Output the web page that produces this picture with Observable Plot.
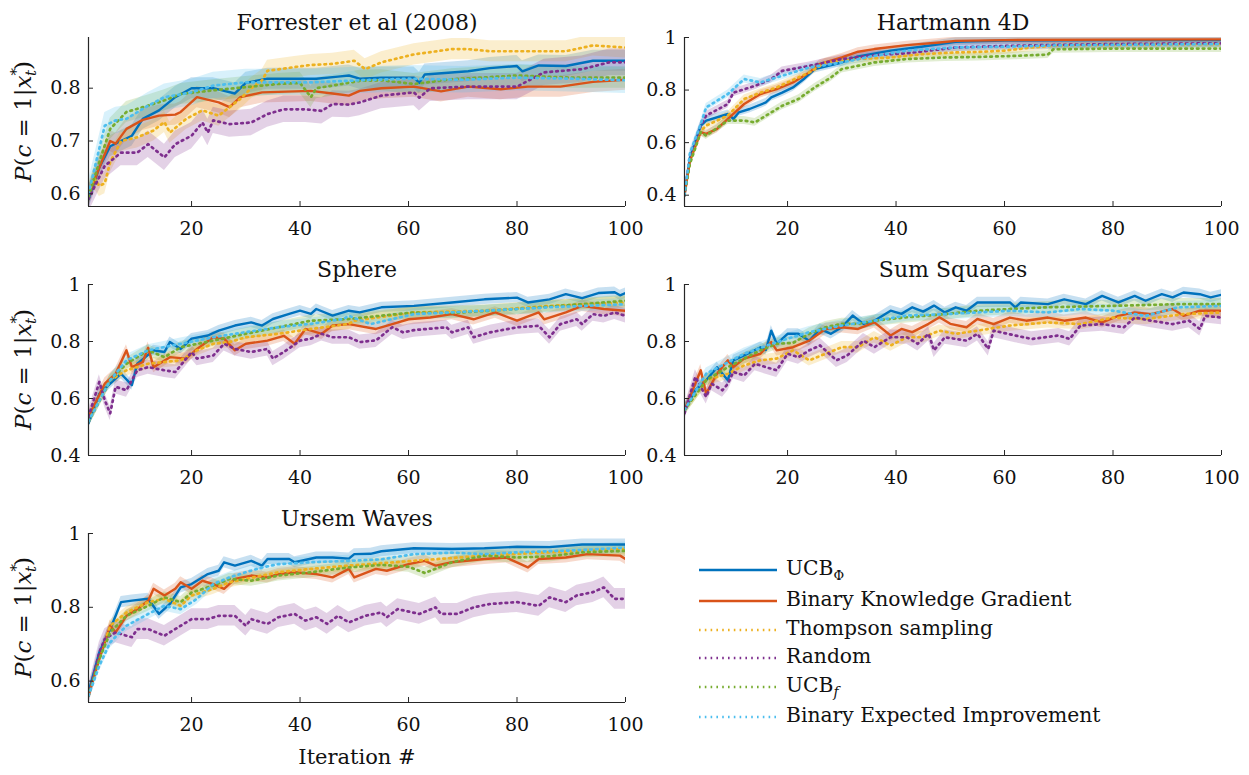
<!DOCTYPE html>
<html><head><meta charset="utf-8">
<script src="https://cdn.jsdelivr.net/npm/d3@7"></script>
<script src="https://cdn.jsdelivr.net/npm/@observablehq/plot@0.6"></script>
<style>
body{margin:0;background:#fff;}
#root{position:relative;width:1249px;height:775px;font-family:"DejaVu Serif",serif;color:#111;overflow:hidden;}
.pp{position:absolute;}
.pp svg{overflow:visible;}
.xl{position:absolute;font-size:21px;transform:translateX(-50%);white-space:nowrap;}
.lg{position:absolute;left:698px;font-size:20.3px;white-space:nowrap;}
.lg svg{vertical-align:middle;margin-right:8px;}
</style></head><body><div id="root"></div><script>
// ---------- data ----------
const SERIES = ["UCBΦ","Binary Knowledge Gradient","Thompson sampling","Random","UCBf","Binary Expected Improvement"];
const COLORS = ["#0072BD","#D95319","#EDB120","#7E2F8E","#77AC30","#4DBEEE"];
const DOTTED = [false,false,true,true,true,true];
const XDOMAIN = [1,100];
const XTICKS = [20,40,60,80,100];

// Forrester et al (2008)
const F_TITLE = "Forrester et al (2008)";
const F_YDOMAIN = [0.576,0.896];
const F_YTICKS = [0.6,0.7,0.8];
const F_BAND = [0.02,0.02,0.02,0.025,0.02,0.025];
const F_UCBPHI = [[1,.59],[3,.65],[5,.69],[7,.70],[9,.71],[11,.742],[14,.758],[17,.783],[20,.80],[24,.80],[28,.79],[30,.81],[34,.818],[39,.818],[43,.818],[47,.822],[49,.824],[51,.818],[55,.82],[61,.82],[62,.81],[63,.826],[71,.832],[75,.838],[80,.842],[81,.832],[84,.843],[89,.842],[94,.852],[100,.852]];
const F_BKG = [[1,.595],[3,.65],[5,.70],[6,.695],[8,.723],[11,.74],[14,.748],[17,.75],[18,.755],[21,.783],[25,.773],[27,.764],[29,.783],[33,.792],[42,.795],[46,.79],[49,.786],[51,.795],[55,.80],[61,.803],[66,.794],[71,.803],[77,.798],[82,.803],[88,.803],[94,.812],[100,.816]];
const F_TS = [[1,.60],[2,.63],[3,.615],[4,.62],[5,.66],[7,.70],[10,.707],[13,.72],[15,.736],[16,.716],[19,.742],[22,.758],[25,.748],[29,.78],[31,.80],[33,.815],[34,.833],[39,.84],[42,.844],[46,.846],[50,.852],[52,.836],[55,.849],[61,.864],[68,.874],[71,.874],[75,.87],[83,.87],[89,.87],[94,.881],[100,.877]];
const F_RAND = [[1,.59],[4,.653],[7,.678],[10,.678],[12,.694],[15,.669],[17,.694],[20,.71],[22,.735],[23,.716],[24,.739],[27,.732],[31,.735],[34,.751],[37,.76],[41,.76],[44,.757],[46,.77],[49,.769],[51,.773],[55,.786],[61,.792],[62,.782],[64,.80],[71,.803],[80,.803],[85,.83],[92,.836],[97,.849],[100,.849]];
const F_UCBF = [[1,.595],[3,.66],[5,.723],[8,.755],[12,.767],[15,.777],[18,.789],[24,.796],[30,.802],[36,.808],[40,.81],[42,.783],[43,.80],[46,.805],[51,.814],[55,.815],[61,.808],[68,.817],[80,.824],[90,.82],[100,.82]];
const F_BEI = [[1,.60],[4,.729],[6,.739],[8,.742],[12,.767],[15,.783],[20,.792],[24,.805],[30,.811],[36,.811],[42,.811],[51,.815],[60,.818],[70,.816],[80,.82],[90,.818],[100,.815]];

// Hartmann 4D
const H_TITLE = "Hartmann 4D";
const H_YDOMAIN = [0.357,1];
const H_YTICKS = [0.4,0.6,0.8,1];
const H_BAND = [0.015,0.015,0.015,0.015,0.015,0.015];
const H_UCBPHI = [[1,.40],[2,.54],[4,.665],[5,.684],[9,.709],[10,.69],[11,.715],[13,.728],[16,.753],[17,.772],[19,.79],[21,.81],[23,.842],[25,.88],[30,.905],[33,.928],[39,.95],[45,.966],[51,.984],[60,.988],[80,.99],[100,.99]];
const H_BKG = [[1,.40],[2,.53],[4,.64],[5,.633],[7,.652],[9,.69],[12,.747],[15,.785],[18,.804],[21,.829],[24,.867],[26,.90],[30,.924],[33,.946],[36,.956],[42,.971],[48,.981],[51,.987],[60,.99],[80,.992],[100,.993]];
const H_TS = [[1,.40],[2,.53],[4,.645],[5,.665],[9,.703],[12,.766],[15,.79],[18,.81],[24,.867],[27,.905],[33,.918],[39,.924],[45,.937],[51,.943],[55,.945],[60,.95],[65,.962],[70,.97],[80,.972],[100,.975]];
const H_RAND = [[1,.40],[2,.55],[4,.665],[5,.703],[9,.747],[10,.79],[14,.816],[17,.842],[19,.873],[24,.892],[30,.918],[36,.933],[42,.94],[51,.962],[60,.968],[70,.972],[80,.975],[100,.978]];
const H_UCBF = [[1,.40],[2,.52],[4,.64],[5,.627],[9,.684],[12,.684],[14,.677],[17,.715],[19,.74],[22,.766],[25,.81],[28,.848],[30,.88],[36,.905],[42,.918],[49,.924],[55,.926],[62,.93],[68,.935],[69,.955],[80,.958],[100,.958]];
const H_BEI = [[1,.40],[2,.56],[4,.67],[5,.734],[9,.785],[12,.842],[15,.829],[18,.848],[21,.867],[24,.886],[30,.905],[36,.93],[42,.95],[51,.962],[60,.965],[70,.97],[80,.972],[100,.975]];

// Sphere
const S_TITLE = "Sphere";
const S_YDOMAIN = [0.4,1];
const S_YTICKS = [0.4,0.6,0.8,1];
const S_BAND = [0.018,0.02,0.02,0.025,0.02,0.02];
const S_UCBPHI = [[1,.513],[3,.617],[5,.652],[7,.687],[9,.647],[10,.722],[13,.769],[15,.763],[16,.798],[18,.774],[20,.81],[23,.821],[25,.838],[28,.856],[31,.867],[33,.856],[35,.879],[38,.897],[40,.908],[42,.897],[43,.914],[46,.891],[49,.908],[51,.902],[55,.92],[61,.925],[68,.937],[74,.948],[80,.954],[82,.937],[86,.948],[89,.966],[92,.952],[95,.97],[98,.973],[99,.962],[100,.97]];
const S_BKG = [[1,.536],[4,.652],[6,.687],[8,.769],[9,.71],[11,.728],[12,.778],[13,.71],[16,.745],[19,.74],[21,.774],[24,.815],[26,.81],[28,.769],[30,.792],[34,.803],[37,.82],[39,.792],[41,.844],[44,.827],[46,.856],[49,.861],[54,.844],[57,.861],[60,.878],[64,.884],[68,.896],[72,.878],[76,.902],[80,.873],[84,.902],[85,.878],[89,.902],[92,.925],[96,.914],[100,.908]];
const S_TS = [[1,.52],[5,.664],[8,.699],[12,.722],[18,.734],[21,.769],[24,.792],[27,.798],[30,.815],[36,.827],[42,.844],[49,.862],[50,.873],[61,.902],[74,.908],[86,.925],[100,.937]];
const S_RAND = [[1,.536],[3,.658],[4,.594],[5,.548],[6,.641],[8,.629],[10,.699],[12,.71],[15,.699],[17,.693],[20,.763],[21,.74],[24,.751],[26,.792],[28,.774],[31,.763],[34,.774],[35,.74],[37,.763],[40,.803],[42,.81],[44,.827],[46,.815],[49,.815],[51,.798],[54,.804],[57,.85],[59,.832],[61,.84],[67,.85],[68,.832],[71,.85],[72,.815],[75,.832],[80,.85],[84,.855],[86,.815],[88,.861],[91,.878],[92,.861],[94,.896],[96,.89],[98,.902],[100,.89]];
const S_UCBF = [[1,.52],[5,.664],[8,.722],[12,.769],[15,.745],[18,.78],[24,.803],[30,.827],[36,.85],[42,.873],[49,.879],[61,.902],[68,.90],[80,.914],[92,.931],[100,.943]];
const S_BEI = [[1,.52],[5,.664],[8,.734],[12,.769],[18,.792],[24,.815],[30,.833],[36,.85],[42,.862],[48,.879],[49,.89],[53,.861],[61,.896],[74,.908],[86,.92],[100,.931]];

// Sum Squares
const Q_TITLE = "Sum Squares";
const Q_YDOMAIN = [0.4,1];
const Q_YTICKS = [0.4,0.6,0.8,1];
const Q_BAND = [0.018,0.02,0.02,0.025,0.02,0.02];
const Q_UCBPHI = [[1,.559],[3,.629],[5,.664],[7,.71],[9,.664],[10,.734],[12,.751],[15,.78],[16,.77],[17,.838],[18,.792],[20,.827],[22,.827],[24,.803],[26,.844],[28,.827],[30,.85],[32,.891],[34,.862],[36,.873],[39,.908],[41,.897],[43,.92],[45,.905],[47,.926],[49,.902],[51,.92],[53,.908],[55,.937],[61,.937],[62,.92],[63,.937],[68,.931],[71,.948],[75,.931],[78,.96],[81,.937],[84,.96],[86,.943],[89,.966],[91,.955],[93,.972],[96,.966],[98,.955],[100,.964]];
const Q_BKG = [[1,.559],[4,.699],[5,.617],[7,.687],[9,.734],[10,.71],[12,.74],[15,.757],[17,.798],[18,.769],[21,.78],[24,.803],[27,.844],[30,.85],[33,.844],[36,.867],[39,.821],[41,.844],[43,.833],[46,.862],[48,.885],[50,.862],[53,.85],[55,.879],[58,.861],[61,.884],[64,.873],[68,.884],[71,.873],[75,.884],[78,.867],[81,.89],[84,.902],[87,.896],[91,.914],[93,.89],[96,.908],[100,.908]];
const Q_TS = [[1,.56],[5,.664],[9,.687],[12,.716],[15,.734],[18,.74],[21,.769],[24,.734],[27,.757],[30,.78],[33,.78],[36,.815],[39,.786],[42,.815],[45,.815],[48,.838],[51,.827],[55,.838],[61,.856],[68,.867],[74,.861],[80,.884],[86,.879],[93,.896],[100,.902]];
const Q_RAND = [[1,.548],[3,.676],[5,.606],[6,.652],[8,.629],[9,.652],[10,.693],[12,.681],[14,.722],[16,.71],[18,.699],[20,.757],[22,.745],[24,.769],[26,.786],[29,.734],[31,.751],[34,.803],[36,.78],[39,.815],[42,.815],[44,.792],[46,.827],[47,.769],[49,.815],[53,.803],[55,.827],[57,.774],[58,.838],[62,.821],[65,.809],[70,.821],[72,.809],[74,.856],[78,.861],[82,.85],[84,.884],[87,.873],[91,.861],[94,.873],[96,.844],[97,.89],[100,.884]];
const Q_UCBF = [[1,.56],[5,.664],[9,.71],[12,.74],[15,.769],[18,.792],[21,.795],[24,.827],[27,.85],[30,.862],[33,.862],[36,.873],[42,.885],[49,.896],[55,.908],[61,.914],[68,.92],[80,.925],[92,.931],[100,.931]];
const Q_BEI = [[1,.56],[5,.687],[12,.757],[18,.798],[24,.833],[30,.856],[36,.873],[42,.891],[49,.896],[61,.908],[68,.902],[74,.914],[80,.908],[86,.89],[92,.92],[100,.925]];

// Ursem Waves
const U_TITLE = "Ursem Waves";
const U_YDOMAIN = [0.542,1];
const U_YTICKS = [0.6,0.8,1];
const U_BAND = [0.015,0.015,0.015,0.028,0.015,0.015];
const U_UCBPHI = [[1,.57],[3,.678],[5,.741],[6,.777],[7,.814],[9,.818],[12,.823],[14,.782],[16,.809],[18,.854],[20,.863],[23,.89],[25,.899],[26,.922],[28,.913],[31,.926],[33,.913],[34,.931],[38,.931],[39,.922],[43,.935],[46,.935],[49,.932],[50,.944],[53,.945],[55,.952],[61,.96],[68,.958],[74,.96],[80,.964],[86,.963],[92,.97],[100,.97]];
const U_BKG = [[1,.56],[3,.66],[5,.75],[6,.732],[8,.777],[10,.795],[12,.818],[13,.85],[15,.832],[17,.85],[18,.868],[20,.85],[22,.872],[24,.863],[26,.85],[28,.877],[31,.886],[34,.881],[36,.89],[39,.895],[43,.89],[46,.881],[49,.904],[50,.881],[54,.904],[56,.899],[60,.917],[63,.926],[65,.913],[68,.922],[74,.931],[78,.935],[82,.908],[84,.931],[89,.935],[93,.944],[99,.94],[100,.931]];
const U_TS = [[1,.56],[3,.66],[5,.75],[8,.786],[12,.814],[15,.823],[18,.804],[20,.832],[24,.85],[27,.868],[30,.877],[36,.895],[42,.904],[49,.913],[61,.926],[74,.94],[86,.949],[100,.958]];
const U_RAND = [[1,.561],[3,.678],[4,.714],[6,.732],[8,.723],[9,.719],[10,.741],[12,.741],[15,.723],[18,.75],[20,.768],[23,.768],[25,.777],[28,.777],[30,.75],[31,.768],[34,.755],[36,.773],[39,.782],[41,.764],[43,.773],[45,.755],[47,.777],[49,.759],[52,.777],[55,.786],[56,.773],[58,.795],[62,.782],[65,.80],[66,.782],[69,.782],[72,.80],[75,.809],[80,.814],[84,.804],[86,.827],[89,.814],[91,.832],[94,.841],[96,.854],[98,.823],[100,.823]];
const U_UCBF = [[1,.56],[3,.66],[5,.732],[8,.777],[12,.804],[15,.827],[18,.814],[20,.84],[24,.859],[27,.877],[31,.872],[34,.88],[36,.886],[42,.895],[49,.908],[55,.915],[60,.91],[63,.893],[68,.922],[74,.94],[80,.935],[86,.938],[92,.949],[100,.953]];
const U_BEI = [[1,.56],[3,.642],[5,.705],[8,.75],[12,.782],[15,.804],[18,.795],[21,.823],[24,.863],[27,.881],[30,.895],[33,.908],[36,.917],[42,.922],[49,.926],[55,.93],[61,.944],[68,.948],[74,.944],[80,.949],[86,.952],[92,.955],[100,.962]];

const X_LABEL = "Iteration #";

// ---------- drawing ----------
const root = document.getElementById("root");
const FONT = "DejaVu Serif";
const AXC = "#262626";
const DOTS = "1.6,4.2";

function panel(title, series, band, ydomain, yticks, left, top, ph, ylabel) {
  const mt = 37, mb = 40, ml = 88, mr = 15, W = 640;
  const rows = [];
  series.forEach((pts, i) => pts.forEach(([it, v]) => rows.push({s: i, it, v, lo: v - band[i], hi: v + band[i]})));
  const marks = [];
  for (let i = 0; i < series.length; i++) {
    marks.push(Plot.areaY(rows.filter(r => r.s === i), {x: "it", y1: "lo", y2: "hi", fill: COLORS[i], fillOpacity: 0.22, clip: true}));
  }
  for (let i = 0; i < series.length; i++) {
    marks.push(Plot.line(rows.filter(r => r.s === i), {x: "it", y: "v", stroke: COLORS[i], strokeWidth: DOTTED[i] ? 2.7 : 2.4,
      strokeDasharray: DOTTED[i] ? DOTS : null, strokeLinejoin: "round", clip: true}));
  }
  marks.push(Plot.axisX({ticks: XTICKS, tickSize: -5, tickFormat: () => "", stroke: AXC, label: null}));
  marks.push(Plot.axisX({ticks: XTICKS, tickSize: 0, tickPadding: 15, fontSize: 19, fill: "#111", label: null}));
  marks.push(Plot.axisY({ticks: yticks, tickSize: -5, tickFormat: () => "", stroke: AXC, label: null}));
  marks.push(Plot.axisY({ticks: yticks, tickSize: 0, tickPadding: 8, fontSize: 19, fill: "#111", label: null,
    tickFormat: d => d === 1 ? "1" : d.toFixed(1)}));
  marks.push(Plot.ruleY([ydomain[0]], {stroke: AXC, strokeWidth: 1.2}));
  marks.push(Plot.ruleX([XDOMAIN[0]], {stroke: AXC, strokeWidth: 1.2}));
  marks.push(Plot.text([title], {text: d => d, frameAnchor: "top", lineAnchor: "bottom", dy: -8, fontSize: 22, fill: "#111"}));
  const svg = Plot.plot({
    width: W, height: mt + ph + mb, marginTop: mt, marginBottom: mb, marginLeft: ml, marginRight: mr,
    x: {domain: XDOMAIN, axis: null}, y: {domain: ydomain, axis: null},
    style: {fontFamily: FONT, fontSize: "19px", background: "transparent", color: "#111"},
    marks
  });
  if (ylabel) {
    const t = d3.select(svg).append("text")
      .attr("transform", `translate(31,${mt + ph / 2}) rotate(-90)`)
      .attr("text-anchor", "middle").attr("fill", "#111")
      .style("font-family", FONT).style("font-size", "23px");
    t.append("tspan").style("font-style", "italic").text("P");
    t.append("tspan").text("(");
    t.append("tspan").style("font-style", "italic").text("c");
    t.append("tspan").text(" = 1|");
    t.append("tspan").style("font-style", "italic").text("x");
    t.append("tspan").attr("dy", -10).style("font-size", "15px").text("*");
    t.append("tspan").attr("dx", -8).attr("dy", 15).style("font-size", "15px").style("font-style", "italic").text("t");
    t.append("tspan").attr("dy", -5).text(")");
  }
  const div = document.createElement("div");
  div.className = "pp";
  div.style.left = left + "px";
  div.style.top = top + "px";
  div.appendChild(svg);
  root.appendChild(div);
}

panel(F_TITLE, [F_UCBPHI, F_BKG, F_TS, F_RAND, F_UCBF, F_BEI], F_BAND, F_YDOMAIN, F_YTICKS, 0, 0, 169, true);
panel(H_TITLE, [H_UCBPHI, H_BKG, H_TS, H_RAND, H_UCBF, H_BEI], H_BAND, H_YDOMAIN, H_YTICKS, 596, 0, 169, false);
panel(S_TITLE, [S_UCBPHI, S_BKG, S_TS, S_RAND, S_UCBF, S_BEI], S_BAND, S_YDOMAIN, S_YTICKS, 0, 247, 171, true);
panel(Q_TITLE, [Q_UCBPHI, Q_BKG, Q_TS, Q_RAND, Q_UCBF, Q_BEI], Q_BAND, Q_YDOMAIN, Q_YTICKS, 596, 247, 171, false);
panel(U_TITLE, [U_UCBPHI, U_BKG, U_TS, U_RAND, U_UCBF, U_BEI], U_BAND, U_YDOMAIN, U_YTICKS, 0, 496, 169, true);

// x label
const xl = document.createElement("div");
xl.className = "xl"; xl.style.left = "357px"; xl.style.top = "745px"; xl.textContent = X_LABEL;
root.appendChild(xl);

// legend
const LEG_Y = [570, 601, 630, 658, 687, 717];
SERIES.forEach((name, i) => {
  const row = document.createElement("div");
  row.className = "lg";
  row.style.top = (LEG_Y[i] - 14) + "px";
  const s = d3.create("svg").attr("width", 80).attr("height", 10);
  s.append("line").attr("x1", 1).attr("x2", 79).attr("y1", 5).attr("y2", 5)
    .attr("stroke", COLORS[i]).attr("stroke-width", DOTTED[i] ? 2.7 : 2.4)
    .attr("stroke-dasharray", DOTTED[i] ? DOTS : null);
  row.appendChild(s.node());
  const lab = document.createElement("span");
  if (name === "UCBΦ") lab.innerHTML = 'UCB<sub style="font-size:13px">Φ</sub>';
  else if (name === "UCBf") lab.innerHTML = 'UCB<sub style="font-size:14px;font-style:italic">f</sub>';
  else lab.textContent = name;
  row.appendChild(lab);
  root.appendChild(row);
});
</script></body></html>
